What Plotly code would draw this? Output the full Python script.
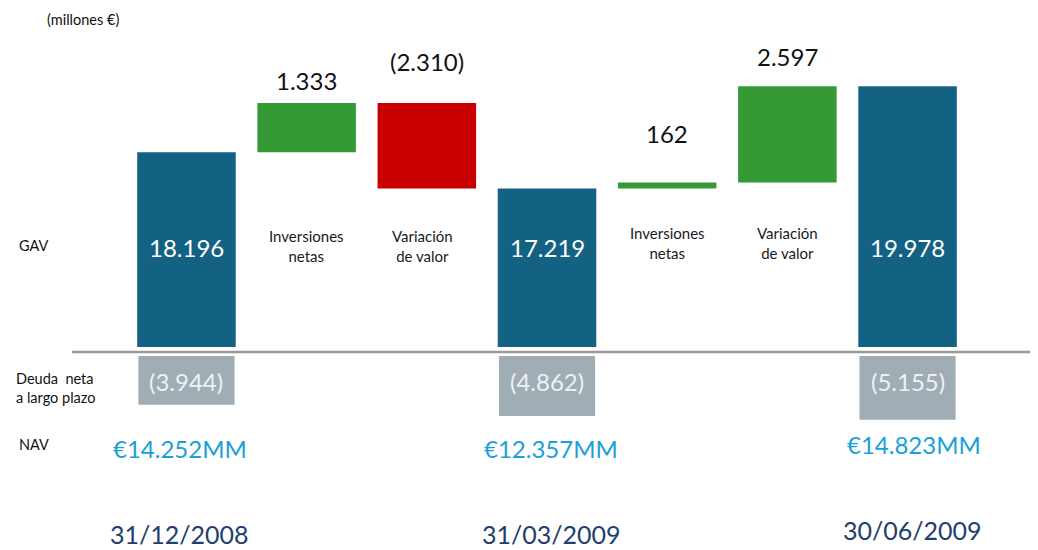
import plotly.graph_objects as go

# ---- data ----
positions = [0, 1, 2, 3, 4, 5, 6]
gav_values = [18196, 1333, -2310, 17219, 162, 2597, 19978]
measures = ["absolute", "relative", "relative", "total", "relative", "relative", "total"]
step_labels = ["", "Inversiones<br>netas", "Variación<br>de valor", "", "Inversiones<br>netas", "Variación<br>de valor", ""]
period_pos = [0, 3, 6]
debt_values = [-3944, -4862, -5155]
nav_values = [14252, 12357, 14823]
dates = ["31/12/2008", "31/03/2009", "30/06/2009"]

FONT = "Lato, 'Open Sans', sans-serif"
BLUE = "#136283"
GREEN = "#359a35"
RED = "#c80000"
GREY_BAR = "#a0adb5"
NAV_COL = "#1aa0d8"
DATE_COL = "#22406e"
W, H = 1038, 550
OFF = 8  # page body margin


def py(px):
    return 1 - (px - OFF) / H


def pxx(px):
    return (px - OFF) / W


def fmt(v):
    s = f"{abs(v):,}".replace(",", ".")
    return f"({s})" if v < 0 else s


fig = go.Figure()

fig.add_trace(go.Waterfall(
    x=positions, y=gav_values, measure=measures,
    width=0.82,
    increasing=dict(marker=dict(color=GREEN)),
    decreasing=dict(marker=dict(color=RED)),
    totals=dict(marker=dict(color=BLUE)),
    connector=dict(visible=False),
    hoverinfo="skip",
    yaxis="y",
))

fig.add_trace(go.Bar(
    x=period_pos, y=debt_values, width=0.8,
    marker=dict(color=GREY_BAR, line=dict(width=0)),
    hoverinfo="skip", yaxis="y2",
))

annotations = []

cum = 0
label_shift = [0, 22, 41, 0, 49, 30, 0]
for i, (v, m) in enumerate(zip(gav_values, measures)):
    before = cum
    if m == "absolute":
        cum = v
    elif m == "relative":
        cum = cum + v
    if m == "relative":
        top = max(before, cum)
        annotations.append(dict(x=positions[i], y=top, xref="x", yref="y", text=fmt(v),
                                showarrow=False, yanchor="middle", yshift=label_shift[i],
                                font=dict(family=FONT, size=24, color="#111111")))
        annotations.append(dict(x=positions[i], y=py(246 if i < 3 else 243), xref="x", yref="paper",
                                text=step_labels[i], showarrow=False, yanchor="middle",
                                xshift=-4 if i == 2 else 0,
                                font=dict(family=FONT, size=15, color="#1a1a1a")))
    else:
        annotations.append(dict(x=positions[i], y=py(247), xref="x", yref="paper", text=fmt(cum),
                                showarrow=False, yanchor="middle",
                                font=dict(family=FONT, size=24, color="white")))

for p, d, n, dt in zip(period_pos, debt_values, nav_values, dates):
    annotations.append(dict(x=p, y=py(381), xref="x", yref="paper", text=fmt(d),
                            showarrow=False, yanchor="middle",
                            font=dict(family=FONT, size=24, color="#eef1f3")))
    annotations.append(dict(x=p, y=py(449 if p < 6 else 444), xref="x", yref="paper",
                            text="€" + fmt(n) + "MM", showarrow=False, yanchor="middle",
                            xshift=-6 if p == 0 else (4 if p == 3 else 6),
                            font=dict(family=FONT, size=24, color=NAV_COL)))
    annotations.append(dict(x=p, y=py(534 if p < 6 else 530), xref="x", yref="paper",
                            text=dt, showarrow=False, yanchor="middle",
                            xshift=-7 if p == 0 else (4 if p == 3 else 5),
                            font=dict(family=FONT, size=25, color=DATE_COL)))

side = [("(millones €)", 45, 19), ("GAV", 17, 245), ("Deuda  neta", 14, 378),
        ("a largo plazo", 14, 397), ("NAV", 17, 444)]
for t, x, y in side:
    annotations.append(dict(x=pxx(x), y=py(y), xref="paper", yref="paper", text=t,
                            showarrow=False, xanchor="left", yanchor="middle",
                            font=dict(family=FONT, size=14.5, color="#111111")))

fig.update_layout(
    width=W, height=H,
    margin=dict(l=0, r=0, t=0, b=0),
    paper_bgcolor="white", plot_bgcolor="white",
    showlegend=False,
    xaxis=dict(range=[-1.485, 7.152], visible=False, fixedrange=True),
    yaxis=dict(domain=[py(347), 1], range=[12947, 22087], visible=False),
    yaxis2=dict(domain=[0, py(356)], range=[-16362, 0], visible=False, anchor="x"),
    annotations=annotations,
    shapes=[dict(type="line", xref="paper", yref="paper", x0=pxx(72), x1=pxx(1035),
                 y0=py(352), y1=py(352), line=dict(color="#9a9a9a", width=2.5))],
)

fig.write_html("out.html")
